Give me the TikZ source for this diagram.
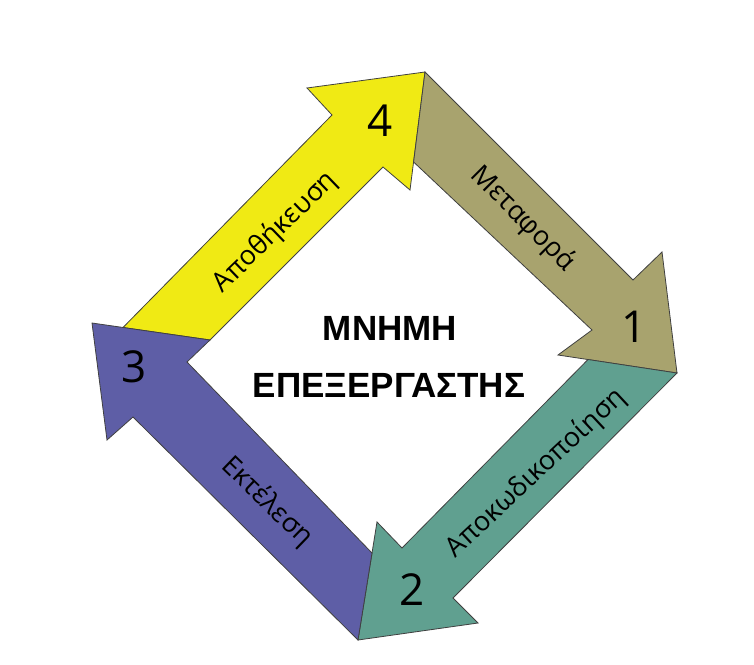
\documentclass[tikz,border=0pt]{standalone}
\usepackage{fontspec}
\setmainfont{Open Sans}
\newfontfamily\boldsans{Liberation Sans}
\definecolor{cYel}{RGB}{240,234,20}
\definecolor{cOli}{RGB}{168,163,110}
\definecolor{cTea}{RGB}{96,160,144}
\definecolor{cBlu}{RGB}{94,94,166}
\begin{document}
\begin{tikzpicture}[x=1pt,y=-1pt,
  arr/.style={draw=black!75, line width=0.8pt, line join=miter},
  lab/.style={font=\fontsize{27}{32}\selectfont, text=black, inner sep=0pt},
  num/.style={font=\fontsize{44}{52}\selectfont, text=black, inner sep=0pt},
  ttl/.style={font=\boldsans\bfseries\fontsize{35}{42}\selectfont, text=black, inner sep=0pt}]
\useasboundingbox[fill=white] (0,0) rectangle (754,664);
% yellow arrow (4)
\fill[cYel, arr] (123,327.5) -- (210,340) -- (383,167) -- (410,190) -- (425,72) -- (307,88) -- (332,115) -- cycle;
% olive arrow (1)
\fill[cOli, arr] (425,72) -- (633,280) -- (662,252) -- (677,373) -- (558,355) -- (592,330) -- (413.6,162) -- cycle;
% teal arrow (2)
\fill[cTea, arr] (588,359.5) -- (677,373) -- (453,598) -- (478,623) -- (358,640) -- (377,522) -- (402,548) -- cycle;
% blue arrow (3)
\fill[cBlu, arr] (358,640) -- (133,417) -- (107,440) -- (92,323) -- (210,340) -- (187,362) -- (372,553) -- cycle;
% labels
\node[lab, rotate=44] (l4) at (275,232) {Αποθήκευση};
\node[lab, rotate=-45] (l1) at (523,219) {Μεταφορά};
\node[lab, rotate=43] (l2) at (536,473) {Αποκωδικοποίηση};
\node[lab, rotate=-44] (l3) at (267,502) {Εκτέλεση};
% numbers
\node[num] (n4) at (380,121) {4};
\node[num] (n1) at (634,327) {1};
\node[num] (n2) at (412,590) {2};
\node[num] (n3) at (134,367) {3};
% title
\node[ttl] (t1) at (390,328) {ΜΝΗΜΗ};
\node[ttl] (t2) at (389,385) {ΕΠΕΞΕΡΓΑΣΤΗΣ};
\end{tikzpicture}
\end{document}
